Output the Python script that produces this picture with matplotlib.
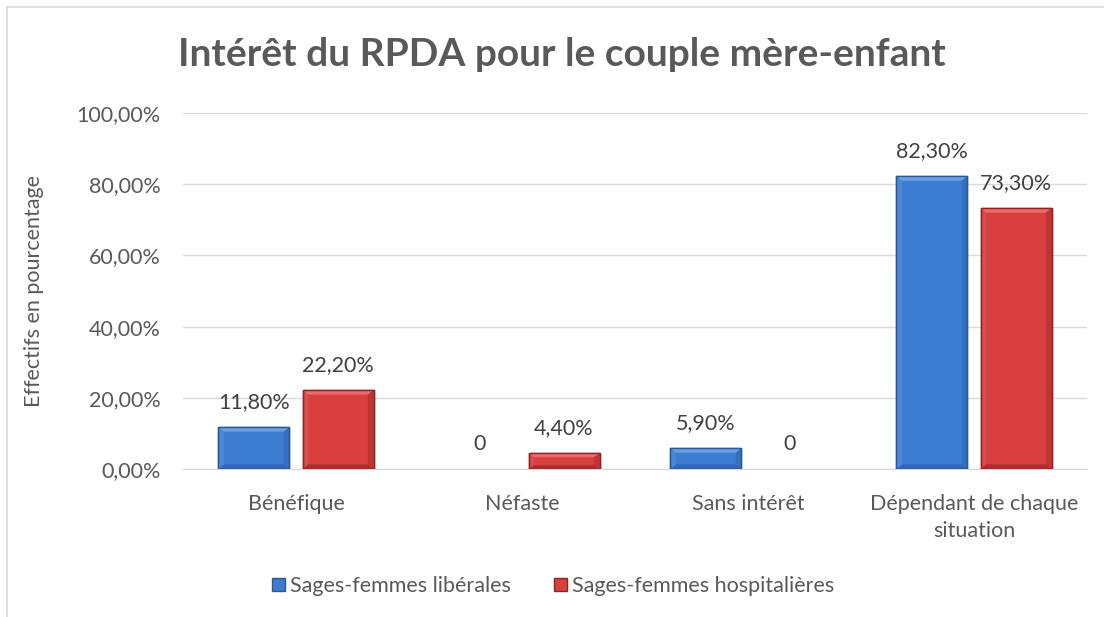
import matplotlib
matplotlib.use("Agg")
import matplotlib.pyplot as plt
from matplotlib.patches import Polygon, Rectangle
import numpy as np

categories = ["Bénéfique", "Néfaste", "Sans intérêt", "Dépendant de chaque\nsituation"]
series_names = ["Sages-femmes libérales", "Sages-femmes hospitalières"]
liberales = [11.8, 0.0, 5.9, 82.3]
hospitalieres = [22.2, 4.4, 0.0, 73.3]
yticks = [0, 20, 40, 60, 80, 100]
title = "Intérêt du RPDA pour le couple mère-enfant"
ylabel = "Effectifs en pourcentage"

plt.rcParams['font.family'] = ['Lato', 'DejaVu Sans']
text_color = "#595959"
FS = 15.5

fig = plt.figure(figsize=(11.04, 6.17), dpi=100)
L, R, T, B = 183, 1087, 113, 469
ax = fig.add_axes([L/1104, 1 - B/617, (R-L)/1104, (B-T)/617])

x = np.arange(len(categories))
w = 0.314
off = 0.186
colors = [("#3C7DD1", "#2A5A96", "#79AAE8"), ("#D83F3F", "#8E2424", "#EF7878")]
bars_all = []
for i, (vals, (fc, ec, hl)) in enumerate(zip([liberales, hospitalieres], colors)):
    bars = ax.bar(x + (2 * i - 1) * off, vals, width=w, color=fc, edgecolor=ec,
                  linewidth=1.0, zorder=3, label=series_names[i])
    bars_all.append(bars)
    for b, v in zip(bars, vals):
        bx, bw, bh = b.get_x(), b.get_width(), b.get_height()
        if bh > 0:
            dx = bw * 0.08
            dy = min(1.3, bh * 0.25)
            ax.add_patch(Polygon([[bx, bh], [bx + bw, bh], [bx + bw - dx, bh - dy], [bx + dx, bh - dy]],
                                 closed=True, facecolor=hl, edgecolor='none', zorder=4, alpha=0.8))
            ax.add_patch(Polygon([[bx, 0], [bx + bw, 0], [bx + bw - dx, dy], [bx + dx, dy]],
                                 closed=True, facecolor=ec, edgecolor='none', zorder=4, alpha=0.6))
            ax.add_patch(Polygon([[bx + bw, 0], [bx + bw, bh], [bx + bw - dx, bh - dy], [bx + bw - dx, dy]],
                                 closed=True, facecolor=ec, edgecolor='none', zorder=4, alpha=0.35))
            ax.add_patch(Polygon([[bx, 0], [bx, bh], [bx + dx, bh - dy], [bx + dx, dy]],
                                 closed=True, facecolor=hl, edgecolor='none', zorder=4, alpha=0.25))
            ax.add_patch(Rectangle((bx, 0), bw, bh, facecolor='none', edgecolor=ec, linewidth=1.0, zorder=5))
        else:
            b.set_linewidth(0)
        label = "0" if v == 0 else f"{v:.2f}%".replace(".", ",")
        ax.annotate(label, (bx + bw / 2, bh), xytext=(0, 18), textcoords="offset points",
                    ha="center", va="center", fontsize=FS, color="#404040", zorder=6)

ax.set_xlim(-0.5, len(categories) - 0.5)
ax.set_ylim(0, 100)
ax.set_yticks(yticks)
ax.set_yticklabels([f"{t:.2f}%".replace(".", ",") for t in yticks], fontsize=FS, color=text_color)
ax.set_xticks(x)
ax.set_xticklabels(categories, fontsize=FS, color=text_color, linespacing=1.45)
ax.tick_params(axis='y', length=0, pad=16)
ax.tick_params(axis='x', length=0, pad=18)
ax.grid(axis='y', color="#D9D9D9", linewidth=1.0, zorder=0)
for s in ["top", "right", "left"]:
    ax.spines[s].set_visible(False)
ax.spines["bottom"].set_color("#D9D9D9")
ax.set_ylabel(ylabel, fontsize=FS, color=text_color)
ax.yaxis.set_label_coords((44 - L) / (R - L), 0.5)

fig.text(562/1104, 1 - 55/617, title, ha="center", va="center", fontsize=28,
         fontweight="bold", color=text_color)

h0 = Rectangle((0, 0), 1, 1, facecolor=colors[0][0], edgecolor=colors[0][1], linewidth=1.0)
h1 = Rectangle((0, 0), 1, 1, facecolor=colors[1][0], edgecolor=colors[1][1], linewidth=1.0)
leg = fig.legend(handles=[h0, h1], labels=series_names, loc="center",
                 bbox_to_anchor=(553/1104, 1 - 586/617), ncol=2, frameon=False, fontsize=FS,
                 handlelength=0.6, handleheight=0.6, handletextpad=0.25, columnspacing=2.0)
for t in leg.get_texts():
    t.set_color(text_color)

# chart frame (left and top edges visible)
fig.add_artist(plt.Line2D([7/1104, 7/1104], [0, 1 - 7/617], transform=fig.transFigure,
                          color="#D9D9D9", linewidth=1.2))
fig.add_artist(plt.Line2D([7/1104, 1], [1 - 7/617, 1 - 7/617], transform=fig.transFigure,
                          color="#D9D9D9", linewidth=1.2))

fig.savefig("out.png", dpi=100)
